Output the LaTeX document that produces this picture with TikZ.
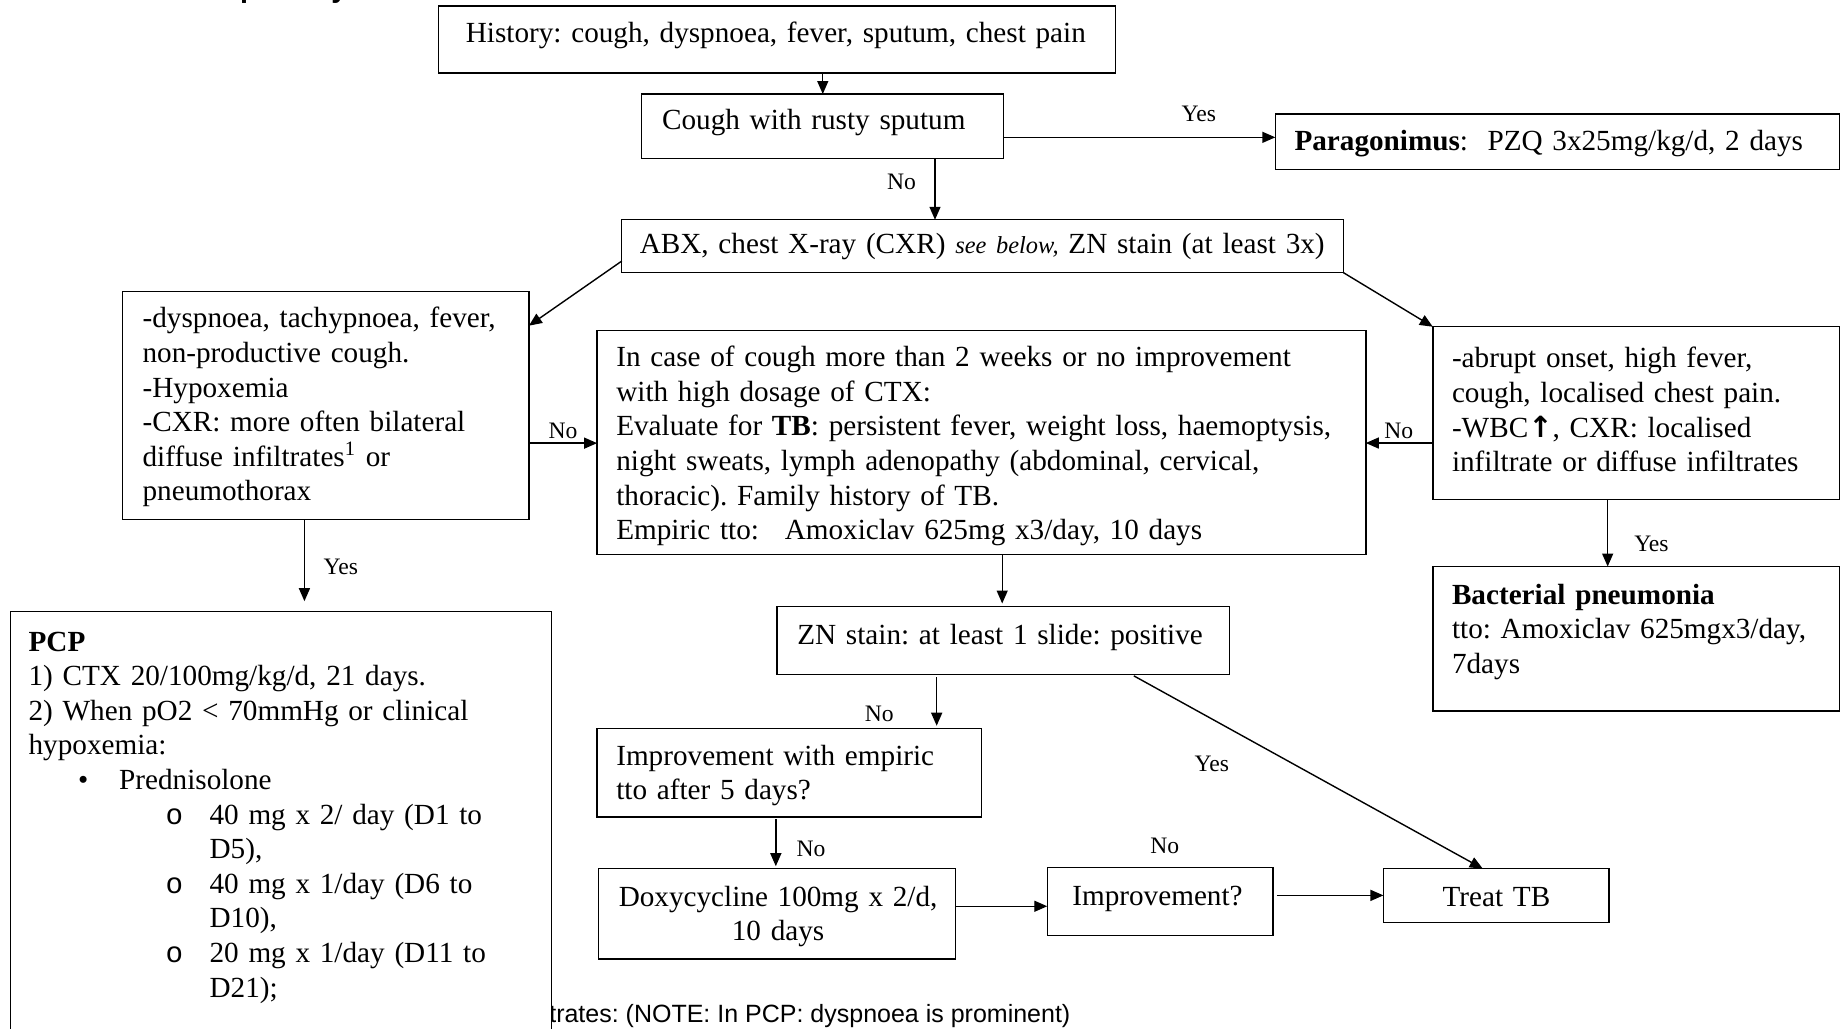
\documentclass[tikz,border=0pt]{standalone}
\usepackage{fontspec}
\setmainfont{Liberation Serif}
\setsansfont{Liberation Sans}
\newfontfamily\arrowfont{DejaVu Sans}
\newfontfamily\courfont{Liberation Mono}
\usetikzlibrary{arrows.meta,calc}
\frenchspacing

% rectangle of given corners (in drawing units), anchored at its top-left corner
\newcommand\flowbox[5]{%
  \node[flow, minimum width={(#4-#2)*0.5877pt}, minimum height={(#5-#3)*0.5877pt}] (#1) at (#2,#3) {};}

\tikzset{
  flow/.style={draw, line width=0.7pt, fill=white, inner sep=0pt, outer sep=0pt, anchor=north west},
  txt/.style={inner sep=0pt, anchor=base west, align=left, text width=700pt,
              font=\fontsize{14.6}{17.3}\selectfont},
  ctxt/.style={inner sep=0pt, anchor=base, align=center, text width=300pt,
              font=\fontsize{14.6}{17.3}\selectfont},
  lbl/.style={inner sep=0pt, font=\fontsize{11.8}{14}\selectfont},
  arr/.style={line width=0.7pt, -{Triangle[length=6.5pt, width=5.5pt]}},
}

\begin{document}
\begin{tikzpicture}[x=0.5877pt, y=-0.5877pt]
  % page frame
  \path[fill=white, use as bounding box] (0,0) rectangle (1568,875);

  % section heading, cut by the top edge of the page
  \begin{scope}
    \clip (0,0) rectangle (1568,875);
    \node[inner sep=0pt, anchor=base west, font=\fontsize{14.4}{17}\sffamily\bfseries] (head) at (159,-1.7) {Respiratory};
  \end{scope}

  % footnote (runs behind the PCP box)
  \node[inner sep=0pt, anchor=base west, font=\fontsize{12.5}{15}\sffamily] (foot) at (467,870)
    {trates: (NOTE: In PCP: dyspnoea is prominent)};

  % boxes
  \flowbox{hist}{373}{5}{949}{62}
  \flowbox{cough}{546}{80}{854}{135}
  \flowbox{parag}{1085}{97}{1565}{144}
  \flowbox{abx}{529}{187}{1143}{232}
  \flowbox{sympL}{104}{248}{450}{442}
  \flowbox{tb}{508}{281}{1162}{472}
  \flowbox{sympR}{1219}{278}{1565}{425}
  \flowbox{bact}{1219}{482}{1565}{605}
  \flowbox{pcp}{9}{520}{469}{890}
  \flowbox{zn}{661}{516}{1046}{574}
  \flowbox{impe}{508}{620}{835}{695}
  \flowbox{doxy}{509}{739}{813}{816}
  \flowbox{impq}{891}{738}{1083}{796}
  \flowbox{treat}{1177}{739}{1369}{785}

  % box texts
  \node[txt] (tHist) at (396,36) {History: cough, dyspnoea, fever, sputum, chest pain};
  \node[txt] (tCough) at (563,110) {Cough with rusty sputum};
  \node[txt] (tParag) at (1101,128) {\textbf{Paragonimus}:\ \ PZQ 3x25mg/kg/d, 2 days};
  \node[txt] (tAbx) at (544,216) {ABX, chest X-ray (CXR) {\fontsize{12.2}{14}\selectfont\itshape see below,} ZN stain (at least 3x)};
  \node[txt] (tSympL) at (121,279) {-dyspnoea, tachypnoea, fever,\\
    non-productive cough.\\
    -Hypoxemia\\
    -CXR: more often bilateral\\
    diffuse infiltrates\textsuperscript{1} or\\
    pneumothorax};
  \node[txt] (tTb) at (524,312) {In case of cough more than 2 weeks or no improvement\\
    with high dosage of CTX:\\
    Evaluate for \textbf{TB}: persistent fever, weight loss, haemoptysis,\\
    night sweats, lymph adenopathy (abdominal, cervical,\\
    thoracic). Family history of TB.\\
    Empiric tto:\hspace{8pt} Amoxiclav 625mg x3/day, 10 days};
  \node[txt] (tSympR) at (1235,313) {-abrupt onset, high fever,\\
    cough, localised chest pain.\\
    -WBC{\arrowfont\bfseries ↑}, CXR: localised\\
    infiltrate or diffuse infiltrates};
  \node[txt] (tBact) at (1235,514) {\textbf{Bacterial pneumonia}\\
    tto: Amoxiclav 625mgx3/day,\\
    7days};
  \node[txt] (tPcp) at (24,554) {\textbf{PCP}\\
    1) CTX 20/100mg/kg/d, 21 days.\\
    2) When pO2 < 70mmHg or clinical\\
    hypoxemia:\\
    \makebox[0pt][l]{\hspace{24.7pt}•}\hspace{45.3pt}Prednisolone\\
    \makebox[0pt][l]{\hspace{68.5pt}{\courfont o}}\hspace{90.5pt}40 mg x 2/ day (D1 to\\
    \hspace*{90.5pt}D5),\\
    \makebox[0pt][l]{\hspace{68.5pt}{\courfont o}}\hspace{90.5pt}40 mg x 1/day (D6 to\\
    \hspace*{90.5pt}D10),\\
    \makebox[0pt][l]{\hspace{68.5pt}{\courfont o}}\hspace{90.5pt}20 mg x 1/day (D11 to\\
    \hspace*{90.5pt}D21);};
  \node[txt] (tZn) at (678,548) {ZN stain: at least 1 slide: positive};
  \node[txt] (tImpe) at (524,651) {Improvement with empiric\\tto after 5 days?};
  \node[ctxt] (tDoxy) at (662,771) {Doxycycline 100mg x 2/d,\\10 days};
  \node[txt] (tImpq) at (912,770) {Improvement?};
  \node[txt] (tTreat) at (1227,771) {Treat TB};

  % connectors
  \draw[arr] (hist.south -| cough.north) -- (cough.north);

  \coordinate (cYes) at ($(cough.north east)!0.67!(cough.south east)$);
  \draw[arr] (cYes) -- (cYes -| parag.west);
  \node[lbl] (lYes1) at (1020,97) {Yes};

  \coordinate (cNo) at ($(cough.south west)!0.81!(cough.south east)$);
  \draw[arr] (cNo) -- (cNo |- abx.north);
  \node[lbl] (lNo1) at (767,155) {No};

  \draw[arr] ($(abx.north west)!0.78!(abx.south west)$) -- ($(sympL.north east)!0.15!(sympL.south east)$);
  \draw[arr] (abx.south east) -- (sympR.north west);

  \coordinate (cL) at ($(sympL.north east)!0.665!(sympL.south east)$);
  \draw[arr] (cL) -- (cL -| tb.west);
  \node[lbl] (lNo2) at (479,367) {No};

  \coordinate (cR) at ($(sympR.north west)!0.673!(sympR.south west)$);
  \draw[arr] (cR) -- (cR -| tb.east);
  \node[lbl] (lNo3) at (1190,367) {No};

  \coordinate (cP) at ($(sympL.south west)!0.448!(sympL.south east)$);
  \draw[arr, shorten >=5pt] (cP) -- (cP |- pcp.north);
  \node[lbl] (lYes2) at (290,482) {Yes};

  \coordinate (cB) at ($(sympR.south west)!0.43!(sympR.south east)$);
  \draw[arr] (cB) -- (cB |- bact.north);
  \node[lbl] (lYes3) at (1405,463) {Yes};

  \coordinate (cT) at ($(tb.south west)!0.527!(tb.south east)$);
  \draw[arr, shorten >=1.5pt] (cT) -- (cT |- zn.north);

  \coordinate (cZ) at ($(zn.south west)!0.353!(zn.south east)$);
  \draw[arr, shorten <=1.2pt, shorten >=1.5pt] (cZ) -- (cZ |- impe.north);
  \node[lbl] (lNo4) at (748,607) {No};

  \draw[arr, shorten <=1.2pt] ($(zn.south west)!0.784!(zn.south east)$) -- ($(treat.north west)!0.44!(treat.north east)$);
  \node[lbl] (lYes4) at (1031,650) {Yes};

  \coordinate (cI) at ($(impe.south west)!0.465!(impe.south east)$);
  \draw[arr, shorten <=1.2pt, shorten >=1.2pt] (cI) -- (cI |- doxy.north);
  \node[lbl] (lNo5) at (690,722) {No};

  \coordinate (cD) at ($(doxy.north east)!0.416!(doxy.south east)$);
  \draw[arr] (cD) -- (cD -| impq.west);

  \coordinate (cQ) at ($(impq.north east)!0.41!(impq.south east)$);
  \draw[arr, shorten <=2pt] (cQ) -- (cQ -| treat.west);
  \node[lbl] (lNo6) at (991,720) {No};
\end{tikzpicture}
\end{document}
